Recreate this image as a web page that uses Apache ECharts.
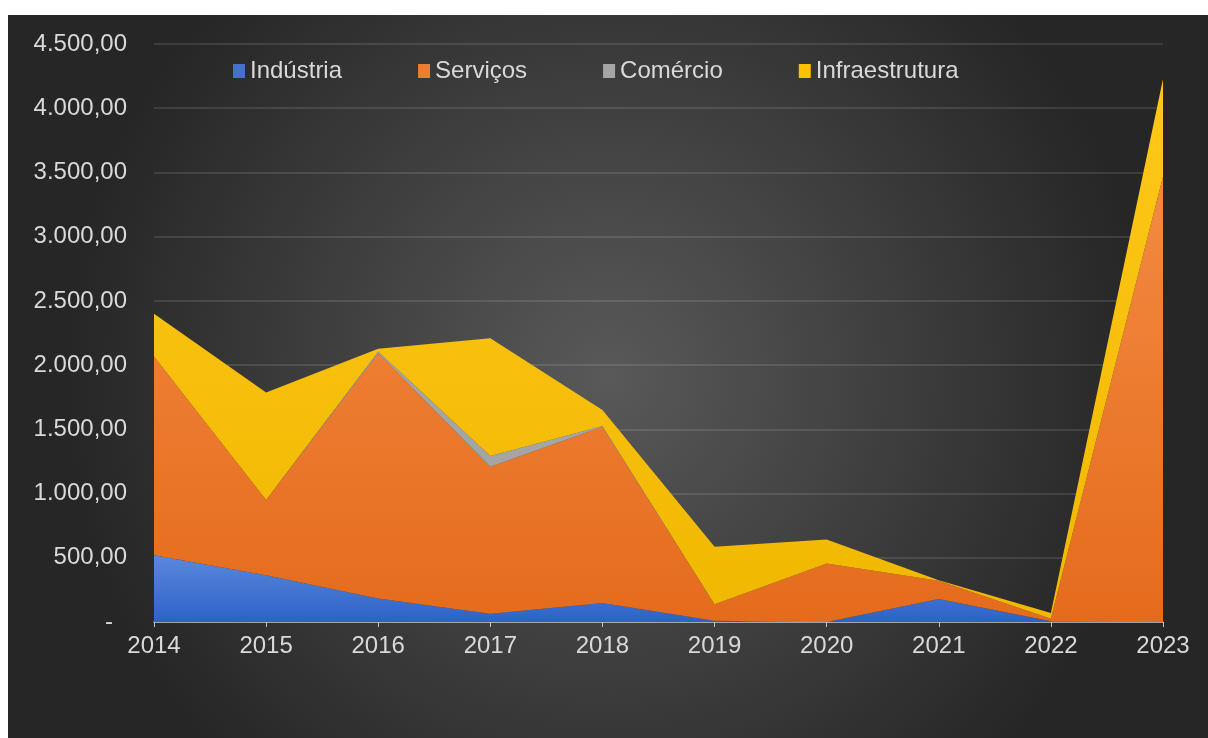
<!DOCTYPE html>
<html>
<head>
<meta charset="utf-8">
<script src="https://cdn.jsdelivr.net/npm/echarts@6/dist/echarts.min.js"></script>
<style>
html,body{margin:0;padding:0;background:#fff;}
#chart{width:1208px;height:738px;}
</style>
</head>
<body>
<div id="chart"></div>
<script>
const categories = ['2014','2015','2016','2017','2018','2019','2020','2021','2022','2023'];
const industria = [520, 364, 182, 65, 148, 10, 0, 180, 5, 0];
const servicos = [1547, 585, 1911, 1144, 1373, 128, 455, 142, 20, 3468];
const comercio = [0, 0, 12, 83, 5, 0, 0, 0, 0, 0];
const infraestrutura = [333, 837, 22, 918, 125, 447, 188, 3, 45, 760];
const seriesNames = ['Indústria','Serviços','Comércio','Infraestrutura'];

const FONT = '"Liberation Sans", Arial, sans-serif';
const TXT = '#d9d9d9';

function fmt(v){
  if (v === 0) return '{z|-}';
  const s = Math.round(v).toString().replace(/\B(?=(\d{3})+(?!\d))/g, '.');
  return s + ',00';
}
function grad(top, bottom){
  return new echarts.graphic.LinearGradient(0,0,0,1,[{offset:0,color:top},{offset:1,color:bottom}]);
}

const chart = echarts.init(document.getElementById('chart'), null, {renderer:'canvas'});
const option = {
  backgroundColor: '#ffffff',
  graphic: [{
    type: 'rect', left: 8, top: 15, z: -10, silent: true,
    shape: {width: 1200, height: 723},
    style: {fill: new echarts.graphic.RadialGradient(0.5, 0.5, 0.75, [
      {offset: 0, color: '#595959'},
      {offset: 1, color: '#262626'}
    ])}
  }],
  textStyle: {fontFamily: FONT},
  legend: {
    left: 228, top: 54,
    itemWidth: 12, itemHeight: 14, itemGap: 76,
    icon: 'rect',
    textStyle: {color: TXT, fontSize: 24, fontFamily: FONT},
    data: seriesNames
  },
  grid: {left: 154, right: 45, top: 44, bottom: 116},
  xAxis: {
    type: 'category', data: categories, boundaryGap: false,
    axisLine: {lineStyle: {color: '#bfc4cc', width: 1.5}},
    axisTick: {show: true, length: 5, lineStyle: {color: '#bfc4cc'}},
    axisLabel: {color: TXT, fontSize: 24, fontFamily: FONT, margin: 12},
    splitLine: {show: false}
  },
  yAxis: {
    type: 'value', min: 0, max: 4500, interval: 500,
    axisLine: {show: false}, axisTick: {show: false},
    axisLabel: {color: TXT, fontSize: 24, fontFamily: FONT, margin: 27, formatter: fmt,
      rich: {z: {color: TXT, fontSize: 24, fontFamily: FONT, padding: [0, 14, 0, 0]}}},
    splitLine: {lineStyle: {color: 'rgba(255,255,255,0.15)', width: 1.5}}
  },
  color: ['#4472c4','#ed7d31','#a5a5a5','#ffc000'],
  series: [
    {name: seriesNames[0], type: 'line', stack: 'total', data: industria, symbol: 'none',
      lineStyle: {width: 0}, areaStyle: {opacity: 1, color: grad('#5a88dc', '#2d62c6')}},
    {name: seriesNames[1], type: 'line', stack: 'total', data: servicos, symbol: 'none',
      lineStyle: {width: 0}, areaStyle: {opacity: 1, color: grad('#f38a42', '#e56b1c')}},
    {name: seriesNames[2], type: 'line', stack: 'total', data: comercio, symbol: 'none',
      lineStyle: {width: 0}, areaStyle: {opacity: 1, color: '#a5a5a5'}},
    {name: seriesNames[3], type: 'line', stack: 'total', data: infraestrutura, symbol: 'none',
      lineStyle: {width: 0}, areaStyle: {opacity: 1, color: grad('#ffc81a', '#f0b800')}}
  ]
};
chart.setOption(option);
</script>
</body>
</html>
